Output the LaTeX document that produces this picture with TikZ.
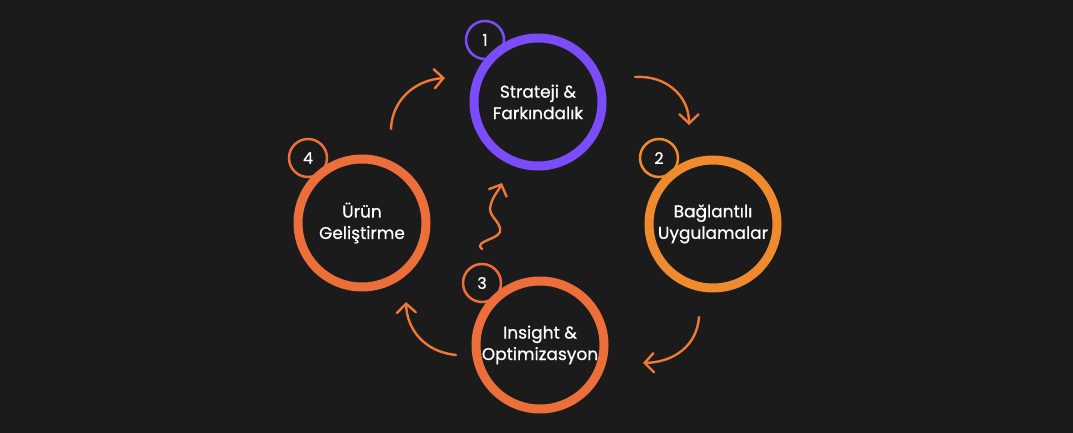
\documentclass[tikz,border=0pt]{standalone}
\usepackage{fontspec}
\setmainfont{Poppins}[FakeBold=0.7,UprightFeatures={FakeBold=0.7}]
\usetikzlibrary{arrows.meta}
\definecolor{bg}{HTML}{1B1B1B}
\definecolor{cpurple}{HTML}{7B4DFA}
\definecolor{corange}{HTML}{F08A2F}
\definecolor{cred}{HTML}{EC6E3A}
\definecolor{carrow}{HTML}{EE7836}
\tikzset{
  bigring/.style={circle, draw=#1, line width=9pt, fill=bg, minimum size=128pt, inner sep=0pt,
    text=white, align=center, font=\fontsize{17}{21.5}\selectfont},
  numring/.style={circle, draw=#1, line width=2.5pt, fill=bg, minimum size=38pt, inner sep=0pt,
    text=white, font=\fontsize{16}{18}\selectfont},
  flow/.style={draw=carrow, line width=2.4pt, line cap=round,
    -{Straight Barb[length=9pt,width=19pt,line width=2.4pt,line cap=round]}}
}
\begin{document}
\begin{tikzpicture}[x=1pt,y=-1pt]
\fill[bg] (0,0) rectangle (1073,433);
\useasboundingbox (0,0) rectangle (1073,433);
% number rings (behind)
\node[numring=cpurple] (n1) at (485,40) {1};
\node[numring=corange] (n2) at (659,158) {2};
\node[numring=cred] (n3) at (482,283) {3};
\node[numring=cred] (n4) at (308,158) {4};
% big rings
\node[bigring=cpurple] (c1) at (538,102) {Strateji \&\\Farkındalık};
\node[bigring=corange] (c2) at (713,224) {Bağlantılı\\Uygulamalar};
\node[bigring=cred] (c3) at (540,345) {Insight \&\\Optimizasyon};
\node[bigring=cred] (c4) at (362,223) {Ürün\\Geliştirme};
% arrow end points
\coordinate (a1s) at (635,77);  \coordinate (a1e) at (689,125);
\coordinate (a2s) at (699,317); \coordinate (a2e) at (643,363);
\coordinate (a3s) at (456,355); \coordinate (a3e) at (406,302);
\coordinate (a4s) at (391,129); \coordinate (a4e) at (445,78);
\coordinate (sqs) at (482,249); \coordinate (sqe) at (502,183);
\draw[flow] (a1s) .. controls (665,75) and (689,95) .. (a1e);
\draw[flow] (a2s) .. controls (697,345) and (675,362) .. (a2e);
\draw[flow] (a3s) .. controls (425,352) and (407,330) .. (a3e);
\draw[flow] (a4s) .. controls (392,100) and (415,80) .. (a4e);
\draw[flow] (sqs) .. controls (472,240) and (504,240) .. (500,228)
  .. controls (497,218) and (487,215) .. (491,204)
  .. controls (493,196) and (499,190) .. (sqe);
\end{tikzpicture}
\end{document}
